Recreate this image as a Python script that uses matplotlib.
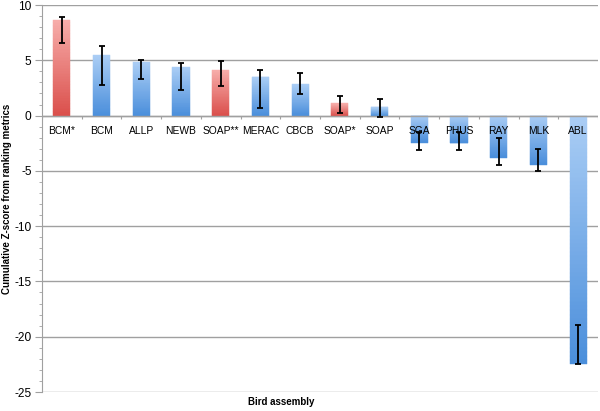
import numpy as np
import matplotlib
matplotlib.use("Agg")
import matplotlib.pyplot as plt
from matplotlib.colors import LinearSegmentedColormap

plt.rcParams["font.family"] = ["Liberation Sans", "DejaVu Sans"]
plt.rcParams["axes.unicode_minus"] = False

# ---------- data ----------
assemblies = ["BCM*", "BCM", "ALLP", "NEWB", "SOAP**", "MERAC", "CBCB",
              "SOAP*", "SOAP", "SGA", "PHUS", "RAY", "MLK", "ABL"]
zscore = [8.64, 5.48, 4.85, 4.42, 4.12, 3.52, 2.83,
          1.11, 0.75, -2.45, -2.51, -3.80, -4.47, -22.49]
err_hi = [8.89, 6.27, 5.00, 4.73, 4.91, 4.10, 3.82,
          1.80, 1.47, -1.45, -1.45, -2.00, -3.02, -18.93]
err_lo = [6.59, 2.80, 3.34, 2.31, 2.68, 0.71, 1.93,
          0.26, -0.13, -3.11, -3.14, -4.44, -4.98, -22.49]
highlight = ["BCM*", "SOAP**", "SOAP*"]

BLUE = ("#4a8edb", "#abcef5")   # dark bottom, light top
RED = ("#da4f4b", "#f7adaa")
GRID = "#a0a0a0"

fig = plt.figure(figsize=(6.0, 4.11), dpi=100)
ax = fig.add_axes([0.07, 0.0462, 0.9267, 0.9416])

n = len(assemblies)
x = np.arange(n)
z = np.array(zscore)
ax.set_xlim(-0.5, n - 0.5)
ax.set_ylim(-25, 10)
ax.set_yticks(np.arange(-25, 11, 5))
ax.set_yticks(np.arange(-25, 11, 1), minor=True)
ax.grid(True, axis="y", which="major", color=GRID, linewidth=1.0)

# gradient bars: each bar is stacked from thin slices, light at the top
cm_blue = LinearSegmentedColormap.from_list("b", BLUE)
cm_red = LinearSegmentedColormap.from_list("r", RED)
S = 60
is_red = np.array([a in highlight for a in assemblies])
for k in range(S):
    f0, f1 = k / S, (k + 1) / S
    light = np.where(z > 0, (f0 + f1) / 2, 1 - (f0 + f1) / 2)
    cols = [cm_red(l) if r else cm_blue(l) for l, r in zip(light, is_red)]
    ax.bar(x, z * (f1 - f0), bottom=z * f0, width=0.43, color=cols,
           edgecolor=cols, linewidth=0.3, zorder=2)

yerr = np.vstack([z - np.array(err_lo), np.array(err_hi) - z])
ax.errorbar(x, z, yerr=yerr, fmt="none", ecolor="black", elinewidth=1.3,
            capsize=2.5, capthick=1.3, zorder=4)

# zero line doubles as the category axis
ax.axhline(0, color=GRID, lw=1.0, zorder=2.6)
for s in ("top", "right", "bottom"):
    ax.spines[s].set_visible(False)
ax.spines["left"].set_color(GRID)

ax.set_xticks(x)
ax.set_xticklabels(assemblies, fontsize=7.4)
ax.tick_params(axis="x", which="major", length=0, pad=0)
for lbl in ax.get_xticklabels():
    lbl.set_zorder(3)
ax.xaxis.set_zorder(3)
# category labels hang just under the zero line
for t in ax.xaxis.get_major_ticks():
    pass
ax.tick_params(axis="y", which="major", length=5, color=GRID,
               labelsize=8.6, pad=2.5)
ax.tick_params(axis="y", which="minor", length=2.5, color=GRID)

# boundaries between categories, as little ticks under the zero line
ax.vlines(np.arange(-0.5, n, 1), -0.3, 0, colors=GRID, lw=0.8, zorder=2.6)
ax.xaxis.set_ticks_position("bottom")
ax.xaxis.set_tick_params(labelbottom=False)
for xi, name in zip(x, assemblies):
    ax.text(xi, -1.4, name, fontsize=7.4, ha="center", va="center", zorder=5)

fig.text(7.5 / 600, 0.517, "Cumulative Z-score from ranking metrics",
         rotation=90, fontsize=7, fontweight="bold", ha="center", va="center")
ax.text(0.43, -0.027, "Bird assembly", transform=ax.transAxes, fontsize=7,
        fontweight="bold", ha="center", va="center")

fig.savefig("out.png", dpi=100)
